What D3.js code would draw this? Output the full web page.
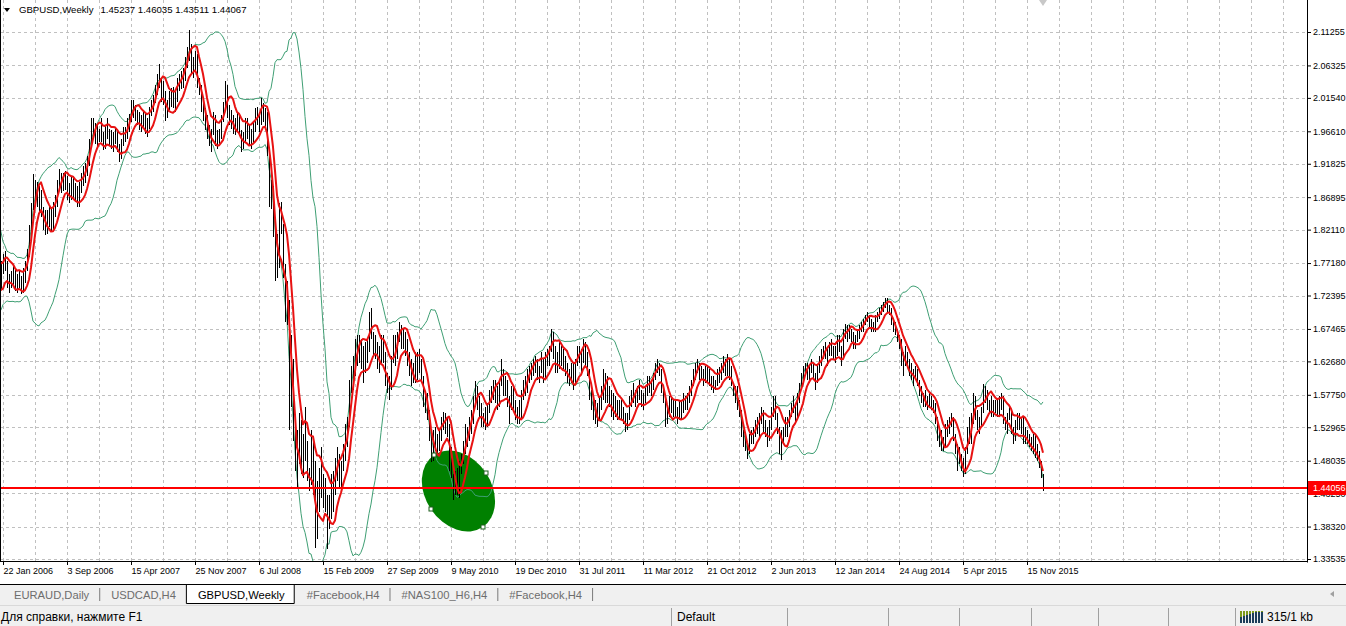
<!DOCTYPE html>
<html>
<head>
<meta charset="utf-8">
<script src="https://cdn.jsdelivr.net/npm/d3@7"></script>
<style>
  body { margin: 0; background: #fff; overflow: hidden; }
  svg { display: block; font-family: "Liberation Sans", Arial, sans-serif; }
</style>
</head>
<body>
<div id="main"></div>
<script>
// weekly GBPUSD bars as [high, low, close] in thousandths, one row per week
// first row is the week of 7 Aug 2005 (warm-up for the indicators, off screen)
const w2005 = [
  [1810,1780,1800],[1815,1790,1800],[1812,1785,1795],[1845,1790,1840],[1850,1820,1835],[1840,1800,1805],
  [1815,1790,1800],[1805,1760,1765],[1780,1750,1770],[1775,1745,1750],[1775,1742,1770],[1785,1755,1775],
  [1780,1745,1750],[1760,1725,1730],[1738,1718,1720],[1738,1712,1725],[1745,1718,1735],[1758,1728,1755],
  [1782,1745,1775],[1778,1745,1750],[1758,1718,1722],[1770,1720,1765],[1775,1745,1765],[1775,1732,1740]
];
// from 22 Jan 2006
const w2006 = [
  [1785,1755,1770],[1790,1760,1775],[1775,1735,1745],[1755,1728,1742],[1760,1735,1752],[1770,1740,1755],
  [1762,1730,1738],[1755,1728,1745],[1760,1735,1742],[1752,1726,1738],[1765,1728,1748],[1775,1742,1765],
  [1792,1760,1785],[1828,1780,1820],[1860,1815,1855],[1903,1850,1890],[1895,1860,1880],[1892,1855,1870],
  [1885,1845,1865],[1880,1840,1845],[1855,1820,1840],[1850,1813,1825],[1850,1815,1845],[1855,1825,1840],
  [1852,1818,1832],[1862,1822,1855],[1872,1840,1862],[1895,1855,1888],[1910,1880,1900],[1905,1875,1885],
  [1905,1878,1898],[1908,1880,1895],[1900,1865,1872],[1890,1860,1868],[1898,1865,1888],[1900,1868,1875],
  [1890,1862,1868],[1885,1855,1865],[1892,1855,1885],[1905,1875,1895],[1915,1885,1905],[1920,1890,1912],
  [1930,1900,1925],[1955,1915,1950],[1985,1945,1975],[1985,1955,1965],[1978,1948,1955],[1975,1940,1962],
  [1970,1950,1958]
];
// from 31 Dec 2006
const w2007 = [
  [1985,1950,1960],[1965,1938,1945],[1975,1940,1968],[1985,1955,1962],[1970,1945,1964],[1968,1940,1948],
  [1965,1935,1958],[1972,1948,1962],[1968,1935,1942],[1948,1921,1930],[1955,1925,1950],[1972,1945,1965],
  [1972,1950,1968],[1985,1955,1978],[1992,1965,1985],[2013,1980,2005],[2012,1985,1998],[2005,1982,1995],
  [1998,1975,1985],[1995,1968,1980],[1990,1965,1975],[1995,1970,1985],[1992,1962,1970],[1985,1958,1978],
  [2002,1970,1995],[2012,1988,2008],[2020,1995,2015],[2035,2008,2030],[2050,2020,2045],[2066,2030,2040],
  [2045,2010,2030],[2040,2005,2018],[2025,1982,1995],[2012,1985,2005],[2025,1998,2018],[2030,2002,2022],
  [2032,2000,2008],[2025,1995,2015],[2045,2010,2040],[2050,2025,2035],[2055,2028,2045],[2060,2030,2052],
  [2075,2040,2070],[2090,2060,2085],[2116,2070,2092],[2095,2050,2060],[2075,2045,2068],[2085,2055,2072],
  [2080,2030,2035],[2045,2020,2030],[2035,1995,2002],[2008,1982,1988]
];
// from 30 Dec 2007
const w2008 = [
  [2000,1968,1985],[1990,1955,1962],[1975,1945,1960],[1970,1936,1965],[1995,1960,1990],[1990,1945,1952],
  [1968,1940,1958],[1970,1945,1962],[1990,1955,1985],[2010,1980,2005],[2040,2000,2020],[2035,1985,1995],
  [2005,1975,1990],[1998,1970,1985],[1990,1962,1972],[1985,1960,1978],[1995,1965,1990],[1992,1960,1965],
  [1968,1936,1948],[1965,1940,1955],[1985,1950,1980],[1985,1955,1965],[1975,1945,1958],[1970,1940,1950],
  [1980,1948,1975],[2000,1965,1995],[2002,1975,1985],[1995,1965,1980],[2015,1975,2000],[2008,1980,1990],
  [2000,1970,1985],[1995,1930,1935],[1940,1855,1868],[1895,1852,1885],[1885,1810,1818],[1825,1745,1765],
  [1815,1750,1795],[1860,1765,1830],[1862,1815,1825],[1830,1750,1760],[1770,1685,1705],[1745,1680,1715],
  [1718,1525,1590],[1665,1560,1625],[1630,1510,1525],[1535,1465,1490],[1525,1440,1500],[1550,1475,1535],
  [1540,1460,1475],[1520,1455,1485],[1560,1480,1500],[1510,1450,1465]
];
// from 28 Dec 2008
const w2009 = [
  [1470,1435,1455],[1525,1445,1505],[1515,1430,1455],[1480,1352,1370],[1450,1365,1425],[1470,1405,1455],
  [1500,1425,1440],[1460,1410,1440],[1455,1405,1420],[1430,1350,1395],[1430,1380,1405],[1460,1395,1450],
  [1465,1405,1445],[1485,1430,1475],[1500,1450,1470],[1490,1440,1460],[1480,1440,1475],[1505,1465,1495],
  [1535,1480,1515],[1545,1500,1535],[1600,1530,1590],[1620,1580,1615],[1635,1585,1615],[1660,1605,1650],
  [1665,1620,1640],[1665,1625,1650],[1660,1615,1630],[1650,1595,1615],[1655,1610,1640],[1660,1625,1650],
  [1700,1640,1690],[1705,1660,1665],[1670,1635,1645],[1665,1630,1655],[1655,1615,1625],[1650,1610,1640],
  [1665,1625,1655],[1665,1625,1630],[1640,1590,1600],[1610,1580,1595],[1605,1570,1590],[1635,1585,1630],
  [1665,1625,1660],[1665,1620,1640],[1670,1630,1665],[1685,1655,1670],[1680,1645,1655],[1675,1645,1650],
  [1670,1635,1645],[1660,1620,1625],[1640,1605,1615],[1630,1590,1615]
];
// from 27 Dec 2009
const w2010 = [
  [1625,1595,1615],[1640,1595,1605],[1640,1600,1625],[1645,1610,1615],[1630,1595,1600],[1605,1560,1565],
  [1580,1550,1560],[1580,1540,1550],[1555,1510,1520],[1525,1478,1500],[1525,1480,1510],[1530,1495,1505],
  [1520,1490,1515],[1525,1495,1520],[1545,1510,1540],[1552,1525,1535],[1550,1520,1535],[1545,1515,1525],
  [1535,1465,1485],[1500,1455,1470],[1460,1423,1440],[1465,1430,1450],[1470,1430,1440],[1480,1425,1470],
  [1490,1460,1480],[1510,1475,1500],[1535,1490,1515],[1530,1500,1525],[1545,1510,1525],[1555,1520,1545],
  [1575,1535,1565],[1598,1560,1585],[1590,1555,1560],[1575,1545,1560],[1565,1530,1545],[1550,1530,1540],
  [1560,1525,1550],[1565,1530,1555],[1585,1550,1575],[1590,1565,1580],[1600,1570,1590],[1600,1565,1575],
  [1590,1555,1570],[1600,1560,1595],[1630,1590,1615],[1615,1575,1585],[1605,1575,1590],[1600,1560,1565],
  [1575,1535,1555],[1590,1555,1580],[1590,1555,1565],[1570,1540,1545]
];
// from 26 Dec 2010
const w2011 = [
  [1560,1535,1555],[1570,1535,1545],[1585,1540,1580],[1600,1570,1595],[1605,1575,1600],[1615,1580,1610],
  [1620,1595,1605],[1625,1600,1620],[1630,1605,1615],[1635,1610,1630],[1630,1600,1605],[1620,1595,1615],
  [1640,1610,1625],[1630,1595,1605],[1640,1600,1635],[1645,1620,1630],[1650,1620,1645],[1675,1640,1665],
  [1670,1630,1640],[1650,1610,1625],[1640,1610,1630],[1655,1615,1645],[1650,1620,1625],[1645,1615,1630],
  [1635,1605,1615],[1625,1595,1605],[1615,1590,1605],[1625,1595,1615],[1625,1585,1600],[1630,1595,1625],
  [1650,1620,1645],[1650,1625,1635],[1645,1610,1630],[1660,1625,1650],[1655,1620,1635],[1640,1605,1610],
  [1615,1570,1575],[1585,1555,1565],[1575,1540,1545],[1570,1535,1560],[1565,1530,1545],[1575,1540,1570],
  [1590,1555,1580],[1615,1570,1605],[1610,1565,1575],[1605,1565,1590],[1590,1560,1565],[1585,1545,1555],
  [1580,1540,1565],[1575,1545,1560],[1570,1540,1550],[1570,1540,1565],[1570,1540,1555]
];
// from 1 Jan 2012
const w2012 = [
  [1560,1535,1545],[1550,1523,1535],[1550,1525,1545],[1575,1540,1570],[1585,1560,1580],[1595,1565,1570],
  [1585,1560,1580],[1590,1565,1585],[1600,1570,1575],[1585,1560,1570],[1580,1555,1565],[1590,1565,1585],
  [1605,1575,1600],[1605,1580,1585],[1600,1575,1590],[1610,1585,1605],[1625,1600,1620],[1630,1610,1620],
  [1625,1605,1615],[1615,1580,1585],[1590,1565,1570],[1575,1530,1540],[1560,1535,1555],[1575,1545,1570],
  [1575,1550,1560],[1570,1545,1565],[1570,1545,1550],[1560,1535,1550],[1570,1540,1545],[1570,1540,1565],
  [1580,1550,1570],[1575,1555,1570],[1580,1555,1575],[1590,1565,1585],[1600,1575,1595],[1615,1590,1610],
  [1625,1600,1620],[1631,1610,1625],[1625,1600,1615],[1620,1600,1605],[1615,1590,1605],[1620,1595,1610],
  [1622,1595,1605],[1615,1590,1600],[1605,1585,1600],[1605,1580,1590],[1600,1585,1595],[1615,1590,1605],
  [1618,1595,1610],[1625,1600,1615],[1635,1610,1625],[1630,1605,1625]
];
// from 30 Dec 2012
const w2013 = [
  [1638,1605,1625],[1630,1600,1610],[1620,1590,1595],[1595,1575,1580],[1590,1565,1570],[1590,1555,1565],
  [1570,1545,1550],[1555,1515,1520],[1525,1500,1515],[1520,1495,1500],[1505,1483,1495],[1520,1490,1510],
  [1525,1505,1520],[1530,1505,1515],[1540,1515,1535],[1545,1520,1525],[1550,1515,1545],[1560,1535,1550],
  [1555,1520,1525],[1540,1515,1520],[1530,1500,1515],[1540,1510,1535],[1560,1525,1550],[1575,1545,1565],
  [1575,1540,1545],[1550,1520,1525],[1530,1490,1505],[1525,1481,1510],[1530,1505,1520],[1545,1515,1535],
  [1545,1515,1540],[1555,1530,1550],[1565,1545,1560],[1575,1550,1555],[1565,1535,1550],[1580,1545,1570],
  [1595,1565,1590],[1610,1585,1600],[1620,1595,1615],[1625,1605,1615],[1625,1600,1610],[1620,1595,1615],
  [1630,1610,1620],[1625,1600,1605],[1610,1585,1600],[1620,1595,1615],[1635,1610,1630],[1645,1620,1640],
  [1650,1630,1645],[1655,1630,1635],[1645,1620,1640],[1655,1635,1650]
];
// from 29 Dec 2013
const w2014 = [
  [1660,1635,1645],[1650,1630,1640],[1650,1625,1645],[1665,1635,1660],[1665,1640,1645],[1650,1620,1630],
  [1675,1630,1670],[1682,1660,1665],[1680,1655,1675],[1680,1660,1665],[1675,1655,1665],[1670,1645,1650],
  [1665,1645,1660],[1675,1655,1670],[1680,1660,1675],[1685,1670,1680],[1690,1670,1685],[1695,1680,1690],
  [1700,1685,1690],[1695,1675,1680],[1690,1670,1675],[1685,1670,1680],[1695,1670,1690],[1700,1685,1695],
  [1705,1690,1700],[1710,1695,1705],[1715,1700,1710],[1720,1705,1710],[1720,1700,1705],[1710,1695,1700],
  [1705,1680,1685],[1690,1670,1680],[1685,1665,1670],[1675,1655,1660],[1665,1645,1655],[1660,1620,1625],
  [1640,1605,1630],[1650,1620,1645],[1640,1620,1625],[1630,1605,1610],[1625,1600,1610],[1615,1590,1610],
  [1620,1600,1605],[1615,1590,1595],[1600,1575,1580],[1590,1565,1570],[1580,1560,1575],[1585,1560,1565],
  [1575,1555,1570],[1580,1560,1570],[1575,1555,1560],[1570,1550,1560]
];
// from 28 Dec 2014
const w2015 = [
  [1565,1535,1540],[1545,1510,1515],[1525,1500,1520],[1525,1495,1505],[1515,1495,1505],[1535,1500,1530],
  [1540,1515,1525],[1545,1520,1540],[1550,1530,1535],[1545,1510,1520],[1520,1490,1495],[1505,1465,1485],
  [1500,1475,1485],[1490,1465,1480],[1485,1456,1470],[1500,1460,1495],[1530,1490,1515],[1545,1505,1535],
  [1550,1505,1545],[1580,1535,1575],[1575,1540,1545],[1555,1525,1535],[1545,1520,1535],[1560,1530,1555],
  [1593,1550,1585],[1590,1565,1570],[1585,1555,1575],[1570,1550,1560],[1575,1545,1565],[1570,1545,1560],
  [1570,1550,1560],[1570,1545,1550],[1575,1545,1565],[1580,1555,1570],[1575,1535,1540],[1545,1525,1530],
  [1550,1520,1545],[1560,1540,1550],[1555,1520,1525],[1530,1505,1520],[1540,1510,1535],[1550,1525,1540],
  [1550,1525,1535],[1545,1520,1530],[1545,1505,1510],[1530,1505,1520],[1525,1505,1515],[1520,1500,1505],
  [1515,1495,1500],[1520,1490,1505],[1520,1485,1490],[1505,1480,1490]
];
// from 27 Dec 2015
const w2016 = [[1495,1470,1475],[1480,1455,1460],[1460,1435,1441]];

const firstWeekLabel = "7 Aug 2005";
const symbol = "GBPUSD,Weekly";
const lastQuote = ["1.45237", "1.46035", "1.43511", "1.44067"];
const bidPrice = 1.44056;
const priceLabels = [2.11255, 2.06325, 2.01540, 1.96610, 1.91825, 1.86895, 1.82110, 1.77180, 1.72395,
  1.67465, 1.62680, 1.57750, 1.52965, 1.48035, 1.43250, 1.38320, 1.33535];
const timeLabels = ["22 Jan 2006", "3 Sep 2006", "15 Apr 2007", "25 Nov 2007", "6 Jul 2008", "15 Feb 2009",
  "27 Sep 2009", "9 May 2010", "19 Dec 2010", "31 Jul 2011", "11 Mar 2012", "21 Oct 2012", "2 Jun 2013",
  "12 Jan 2014", "24 Aug 2014", "5 Apr 2015", "15 Nov 2015"];
const ellipseAnchor = ["4 Jun 2010", 1.4356];
const tabNames = ["EURAUD,Daily", "USDCAD,H4", "GBPUSD,Weekly", "#Facebook,H4", "#NAS100_H6,H4", "#Facebook,H4"];
const activeTab = 2;
const statusTexts = ["Для справки, нажмите F1", "Default", "315/1 kb"];

const W = 1346, H = 626;
const plotRight = 1307, plotBottom = 562;

const parseDay = d3.utcParse("%e %b %Y");
const fmtDay = d3.utcFormat("%-d %b %Y");
const firstWeek = parseDay(firstWeekLabel);

const bars = [w2005, w2006, w2007, w2008, w2009, w2010, w2011, w2012, w2013, w2014, w2015, w2016]
  .flat()
  .map((b, k) => ({ date: d3.utcWeek.offset(firstWeek, k), high: b[0] / 1000, low: b[1] / 1000, close: b[2] / 1000 }));

const tickDates = timeLabels.map(parseDay);
const x = d3.scaleUtc().domain([tickDates[0], tickDates[tickDates.length - 1]]).range([3, 1027]);
const y = d3.scaleLinear().domain([priceLabels[priceLabels.length - 1], priceLabels[0]]).range([559, 32]);

function sma(vals, n) {
  return vals.map((v, k) => k < n - 1 ? null : d3.mean(vals.slice(k - n + 1, k + 1)));
}
function bollinger(vals, n, dev) {
  return vals.map((v, k) => {
    if (k < n - 1) return null;
    const w = vals.slice(k - n + 1, k + 1), m = d3.mean(w);
    const sd = Math.sqrt(d3.mean(w, d => (d - m) * (d - m)));
    return [m + dev * sd, m - dev * sd];
  });
}

const maHigh = sma(bars.map(d => d.high), 5);
const maLow = sma(bars.map(d => d.low), 5);
const bb = bollinger(bars.map(d => d.close), 20, 2);

const svg = d3.select("#main").append("svg").attr("width", W).attr("height", H);
svg.append("rect").attr("width", W).attr("height", H).attr("fill", "#fff");

svg.append("clipPath").attr("id", "plot")
  .append("rect").attr("x", 1).attr("y", 0).attr("width", plotRight - 1).attr("height", plotBottom);

const plot = svg.append("g").attr("clip-path", "url(#plot)");

// grid
const gridWeeks = d3.range(0, 41).map(k => d3.utcWeek.offset(tickDates[0], 16 * k));
plot.append("g").selectAll("line").data(gridWeeks).join("line")
  .attr("x1", d => Math.round(x(d)) + 0.5).attr("x2", d => Math.round(x(d)) + 0.5)
  .attr("y1", 0).attr("y2", plotBottom)
  .attr("stroke", "#c0c0c0").attr("stroke-dasharray", "3,3");
plot.append("g").selectAll("line").data(priceLabels).join("line")
  .attr("x1", 0).attr("x2", plotRight)
  .attr("y1", d => Math.round(y(d)) + 0.5).attr("y2", d => Math.round(y(d)) + 0.5)
  .attr("stroke", "#c0c0c0").attr("stroke-dasharray", "3,3");

// ellipse object (drawn as background)
const ec = [x(parseDay(ellipseAnchor[0])), y(ellipseAnchor[1])];
const eRx = 43.5, eRy = 33, eAngle = 56;
plot.append("ellipse")
  .attr("rx", eRx).attr("ry", eRy)
  .attr("transform", `translate(${ec[0]},${ec[1]}) rotate(${eAngle})`)
  .attr("fill", "#008000");

// bollinger bands
const bandLine = idx => d3.line()
  .defined(d => d.b != null)
  .x(d => x(d.date))
  .y(d => y(d.b[idx]));
const bbData = bars.map((d, k) => ({ date: d.date, b: bb[k] }));
[0, 1].forEach(idx => {
  plot.append("path").datum(bbData).attr("d", bandLine(idx))
    .attr("fill", "none").attr("stroke", "#3f9f74").attr("stroke-width", 1);
});

// bars
plot.append("g").selectAll("line").data(bars).join("line")
  .attr("x1", d => Math.round(x(d.date)) + 0.5).attr("x2", d => Math.round(x(d.date)) + 0.5)
  .attr("y1", d => y(d.high)).attr("y2", d => y(d.low))
  .attr("stroke", "#000").attr("stroke-width", 1).attr("shape-rendering", "crispEdges");

// moving averages on high and low
const maLine = d3.line().defined(d => d.v != null).x(d => x(d.date)).y(d => y(d.v));
[maHigh, maLow].forEach(ma => {
  plot.append("path").datum(bars.map((d, k) => ({ date: d.date, v: ma[k] })))
    .attr("d", maLine).attr("fill", "none")
    .attr("stroke", "#e81212").attr("stroke-width", 2).attr("stroke-linejoin", "round");
});

// ellipse handles at the axis ends
const rad = eAngle * Math.PI / 180;
const handles = [[eRx, 0], [-eRx, 0], [0, eRy], [0, -eRy]].map(([u, v]) =>
  [ec[0] + u * Math.cos(rad) - v * Math.sin(rad), ec[1] + u * Math.sin(rad) + v * Math.cos(rad)]);
plot.append("g").selectAll("rect").data(handles).join("rect")
  .attr("x", d => Math.round(d[0]) - 2).attr("y", d => Math.round(d[1]) - 2)
  .attr("width", 4).attr("height", 4)
  .attr("fill", "#fff").attr("stroke", "#1b5e1b").attr("stroke-width", 1);

// bid line
plot.append("line").attr("x1", 0).attr("x2", plotRight)
  .attr("y1", Math.round(y(bidPrice))).attr("y2", Math.round(y(bidPrice)))
  .attr("stroke", "#ff0000").attr("stroke-width", 2);

// borders
svg.append("line").attr("x1", 0.5).attr("x2", 0.5).attr("y1", 0).attr("y2", plotBottom).attr("stroke", "#000");
svg.append("line").attr("x1", plotRight + 0.5).attr("x2", plotRight + 0.5).attr("y1", 0).attr("y2", plotBottom + 0.5).attr("stroke", "#000");
svg.append("line").attr("x1", 0).attr("x2", plotRight + 1).attr("y1", plotBottom - 0.5).attr("y2", plotBottom - 0.5).attr("stroke", "#000");

// time axis
svg.append("g").attr("transform", `translate(0,${plotBottom - 1})`)
  .call(d3.axisBottom(x).tickValues(tickDates).tickFormat(fmtDay).tickSize(4).tickPadding(3))
  .call(g => g.select(".domain").remove())
  .call(g => g.attr("font-family", null).attr("font-size", 9))
  .call(g => g.selectAll("text").attr("text-anchor", "start").attr("x", 0).attr("fill", "#000"));

// price axis
svg.append("g").attr("transform", `translate(${plotRight + 1},0)`)
  .call(d3.axisRight(y).tickValues(priceLabels).tickFormat(d3.format(".5f")).tickSize(3).tickPadding(2))
  .call(g => g.select(".domain").remove())
  .call(g => g.attr("font-family", null).attr("font-size", 9))
  .call(g => g.selectAll("text").attr("fill", "#000"));

// bid label, drawn over the price label it hides
const by = Math.round(y(bidPrice));
svg.append("rect").attr("x", plotRight + 1).attr("y", by - 7).attr("width", W - plotRight - 1).attr("height", 14).attr("fill", "#ff0000");
svg.append("text").attr("x", plotRight + 6).attr("y", by + 3).attr("font-size", 9).attr("fill", "#fff")
  .text(d3.format(".5f")(bidPrice));

// header
svg.append("path").attr("d", "M4,8 L10,8 L7,12 Z").attr("fill", "#000");
const symText = svg.append("text").attr("x", 19).attr("y", 13).attr("font-size", 9.6).attr("fill", "#000").text(symbol);
const symEnd = 19 + symText.node().getComputedTextLength();
svg.append("text").attr("x", symEnd + 7).attr("y", 13).attr("font-size", 9.6).attr("fill", "#000").text(lastQuote.join(" "));
// chart shift marker
const sx = Math.round(x(bars[bars.length - 1].date));
svg.append("path").attr("d", `M${sx - 4},0 L${sx + 4},0 L${sx},6 Z`).attr("fill", "#c8c8c8");

// tab bar
const tabTop = 584;
svg.append("rect").attr("x", 0).attr("y", tabTop).attr("width", W).attr("height", 21).attr("fill", "#f0f0f0");
svg.append("line").attr("x1", 0).attr("x2", W).attr("y1", tabTop + 0.5).attr("y2", tabTop + 0.5).attr("stroke", "#000");
const tabs = svg.append("g");
let tx = 2;
tabNames.forEach((name, k) => {
  const t = tabs.append("text").attr("x", tx + 12).attr("y", tabTop + 15).attr("font-size", 11.2)
    .attr("fill", k === activeTab ? "#000" : "#6d6d6d").text(name);
  const w = t.node().getComputedTextLength() + 22;
  if (k === activeTab) {
    tabs.insert("path", "text")
      .attr("d", `M${tx + 0.5},${tabTop + 1} V${tabTop + 19.5} H${tx + w - 0.5} V${tabTop + 1}`)
      .attr("fill", "#fff").attr("stroke", "#000");
  } else if (k + 1 !== activeTab) {
    tabs.append("line").attr("x1", tx + w + 0.5).attr("x2", tx + w + 0.5)
      .attr("y1", tabTop + 4).attr("y2", tabTop + 17).attr("stroke", "#7a7a7a");
  }
  tx += w;
});
svg.append("path").attr("d", `M1330,${tabTop + 10} L1334,${tabTop + 7} L1334,${tabTop + 13} Z`).attr("fill", "#a0a0a0");

// status bar
const stTop = 605;
svg.append("rect").attr("x", 0).attr("y", stTop).attr("width", W).attr("height", H - stTop).attr("fill", "#f0f0f0");
svg.append("line").attr("x1", 0).attr("x2", W).attr("y1", stTop + 0.5).attr("y2", stTop + 0.5).attr("stroke", "#d9d9d9");
svg.append("g").selectAll("line").data([671, 787, 888, 959, 1031, 1098, 1168, 1235]).join("line")
  .attr("x1", d => d + 0.5).attr("x2", d => d + 0.5).attr("y1", stTop + 3).attr("y2", H)
  .attr("stroke", "#a0a0a0");
svg.append("text").attr("x", 1).attr("y", 621).attr("font-size", 12).attr("fill", "#000").text(statusTexts[0]);
svg.append("text").attr("x", 677).attr("y", 621).attr("font-size", 12).attr("fill", "#000").text(statusTexts[1]);
svg.append("text").attr("x", 1267).attr("y", 621).attr("font-size", 12).attr("fill", "#000").text(statusTexts[2]);
const icon = svg.append("g");
d3.range(8).forEach(k => {
  icon.append("rect").attr("x", 1240 + k * 3).attr("y", 611).attr("width", 2).attr("height", 12).attr("fill", "#7d9a1c");
  icon.append("rect").attr("x", 1240 + k * 3).attr("y", 617 - Math.min(k, 5)).attr("width", 2)
    .attr("height", 6 + Math.min(k, 5)).attr("fill", "#1c3d5a");
});
</script>
</body>
</html>
